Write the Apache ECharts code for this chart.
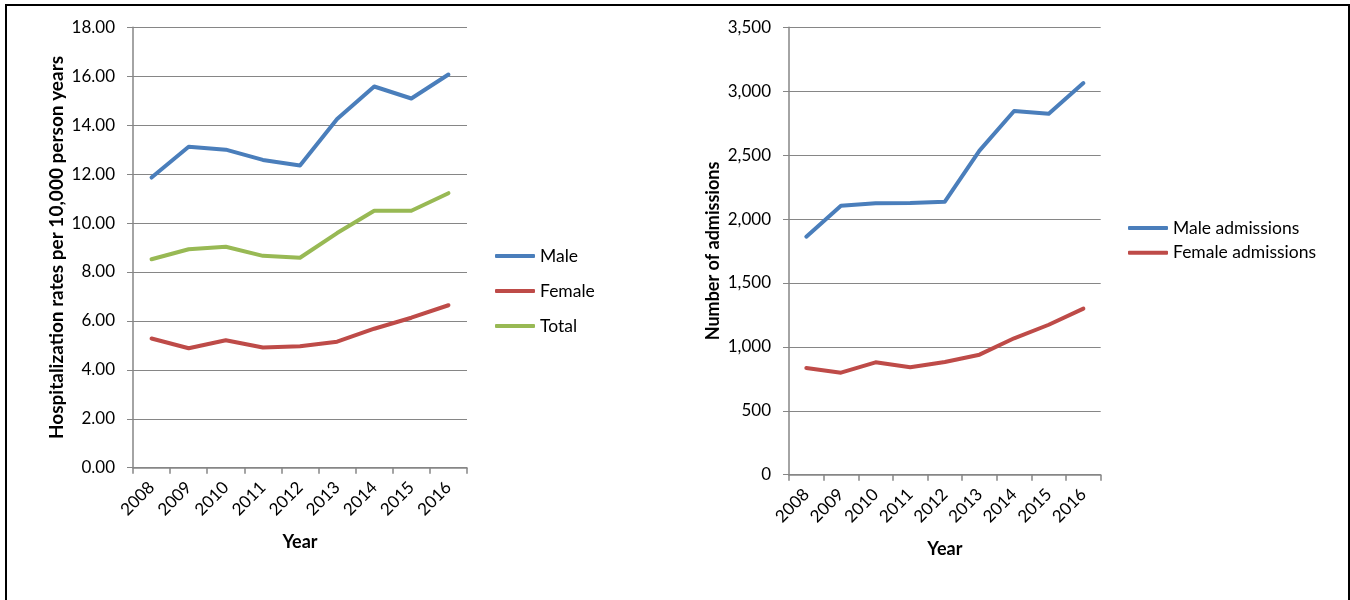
<!DOCTYPE html>
<html>
<head>
<meta charset="utf-8">
<script src="https://cdn.jsdelivr.net/npm/echarts@6/dist/echarts.min.js"></script>
<style>
  html, body { margin: 0; padding: 0; background: #fff; }
  #chart { width: 1350px; height: 600px; }
</style>
</head>
<body>
<div id="chart"></div>
<script>
// Years shared by both panels
const years = ['2008', '2009', '2010', '2011', '2012', '2013', '2014', '2015', '2016'];

// Hospitalization rates per 10,000 person years
const maleRate   = [11.86, 13.12, 13.00, 12.58, 12.35, 14.25, 15.58, 15.09, 16.07];
const femaleRate = [5.28, 4.88, 5.21, 4.91, 4.96, 5.15, 5.68, 6.13, 6.64];
const totalRate  = [8.52, 8.93, 9.03, 8.66, 8.58, 9.59, 10.50, 10.50, 11.22];

// Number of admissions
const maleAdmissions   = [1862, 2104, 2123, 2125, 2136, 2535, 2845, 2824, 3064];
const femaleAdmissions = [835, 798, 879, 840, 882, 939, 1067, 1173, 1299];

const FONT = 'Lato, "Open Sans", sans-serif';
const GRID_GRAY = '#868686';
const BLUE = '#4A7EBB';
const RED = '#BE4B48';
const GREEN = '#98B954';

function xAxisFor(gridIndex) {
  return {
    type: 'category',
    gridIndex: gridIndex,
    data: years,
    boundaryGap: true,
    name: 'Year',
    nameLocation: 'middle',
    nameGap: 65,
    nameTextStyle: { fontFamily: FONT, fontSize: 18, fontWeight: 'bold', color: '#000' },
    axisLine: { show: true, lineStyle: { color: GRID_GRAY, width: 1.5 } },
    axisTick: { show: true, length: 6, alignWithLabel: false, lineStyle: { color: GRID_GRAY, width: 1.5 } },
    axisLabel: { rotate: 45, margin: 17, fontFamily: FONT, fontSize: 17, color: '#000', interval: 0 },
    splitLine: { show: false }
  };
}

function yAxisFor(gridIndex, max, interval, name, fmt, nameGap, nameSize) {
  return {
    type: 'value',
    gridIndex: gridIndex,
    min: 0,
    max: max,
    interval: interval,
    name: name,
    nameLocation: 'middle',
    nameGap: nameGap,
    nameRotate: 90,
    nameTextStyle: { fontFamily: FONT, fontSize: nameSize, fontWeight: 'bold', color: '#000' },
    axisLine: { show: true, lineStyle: { color: GRID_GRAY, width: 1.5 } },
    axisTick: { show: true, length: 6, inside: false, lineStyle: { color: GRID_GRAY, width: 1 } },
    axisLabel: { margin: 18, fontFamily: FONT, fontSize: 17, color: '#000', formatter: fmt },
    splitLine: { show: true, lineStyle: { color: GRID_GRAY, width: 1 } }
  };
}

function lineSeries(name, data, color, idx) {
  return {
    name: name,
    type: 'line',
    xAxisIndex: idx,
    yAxisIndex: idx,
    data: data,
    symbol: 'none',
    smooth: false,
    lineStyle: { color: color, width: 4, cap: 'round', join: 'round' },
    itemStyle: { color: color },
    emphasis: { disabled: true }
  };
}

const legendText = { fontFamily: FONT, fontSize: 17.5, color: '#000' };

const option = {
  animation: false,
  backgroundColor: '#fff',
  grid: [
    { left: 133, top: 27.3, width: 334, height: 440.4, containLabel: false },
    { left: 789, top: 27.3, width: 311.7, height: 447.4, containLabel: false }
  ],
  xAxis: [xAxisFor(0), xAxisFor(1)],
  yAxis: [
    yAxisFor(0, 18, 2, 'Hospitalization rates per 10,000 person years', v => v.toFixed(2), 67, 19),
    yAxisFor(1, 3500, 500, 'Number of admissions', v => v.toLocaleString('en-US'), 67, 18)
  ],
  legend: [
    {
      data: ['Male', 'Female', 'Total'],
      orient: 'vertical',
      left: 495,
      top: 247,
      padding: 0,
      icon: 'roundRect',
      itemWidth: 40,
      itemHeight: 4,
      itemGap: 17,
      textStyle: legendText,
      selectedMode: false
    },
    {
      data: ['Male admissions', 'Female admissions'],
      orient: 'vertical',
      left: 1128,
      top: 219,
      padding: 0,
      icon: 'roundRect',
      itemWidth: 40,
      itemHeight: 4,
      itemGap: 6.8,
      textStyle: legendText,
      selectedMode: false
    }
  ],
  series: [
    lineSeries('Male', maleRate, BLUE, 0),
    lineSeries('Female', femaleRate, RED, 0),
    lineSeries('Total', totalRate, GREEN, 0),
    lineSeries('Male admissions', maleAdmissions, BLUE, 1),
    lineSeries('Female admissions', femaleAdmissions, RED, 1)
  ],
  graphic: [
    {
      type: 'rect',
      shape: { x: 6, y: 5, width: 1343, height: 700 },
      style: { fill: 'none', stroke: '#000', lineWidth: 2 },
      silent: true
    }
  ]
};

const chart = echarts.init(document.getElementById('chart'), null, { renderer: 'canvas' });
chart.setOption(option);
</script>
</body>
</html>
